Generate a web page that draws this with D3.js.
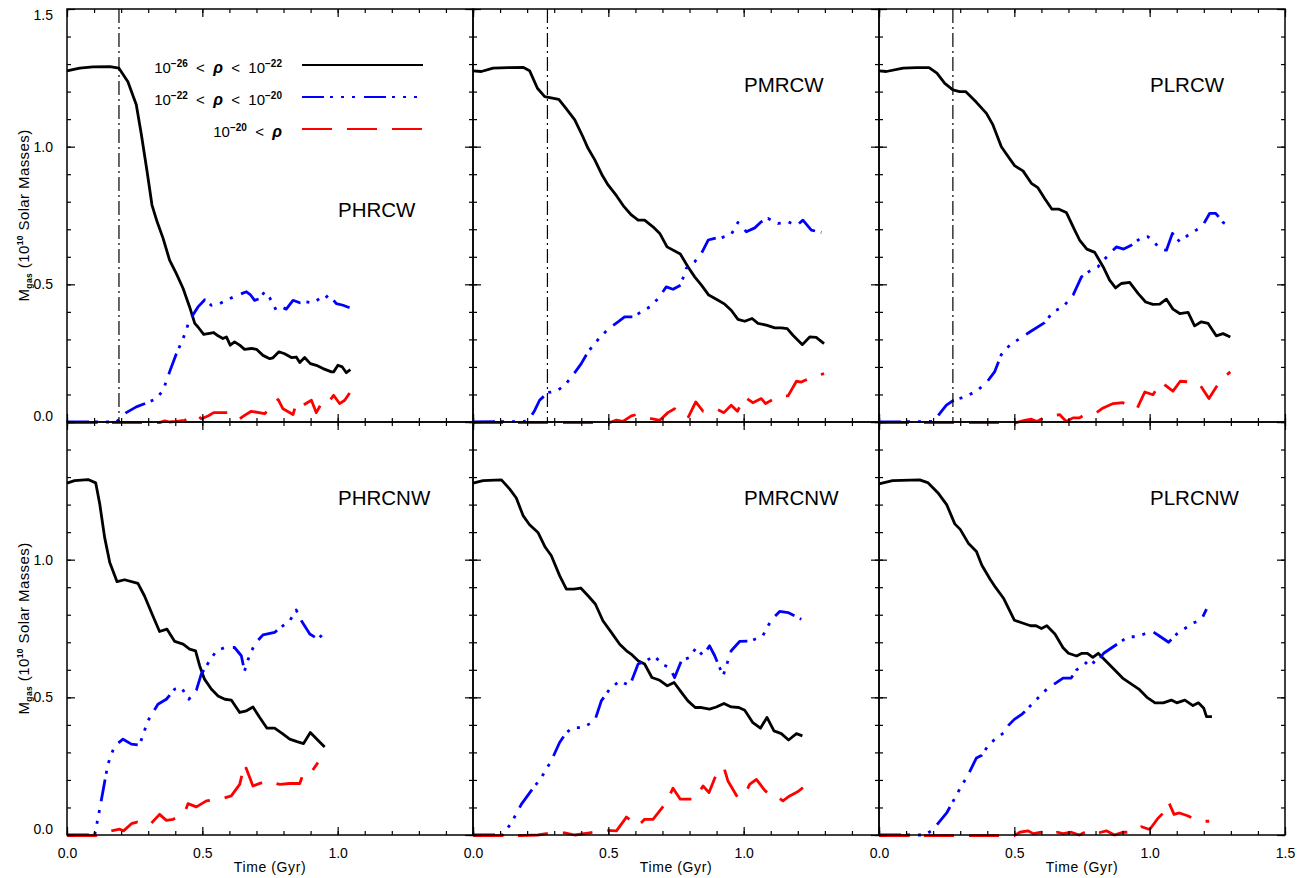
<!DOCTYPE html>
<html>
<head>
<meta charset="utf-8">
<script src="https://cdn.jsdelivr.net/npm/d3@7"></script>
<style>
  body { margin: 0; background: #fff; }
  svg { display: block; font-family: "Liberation Sans", Arial, sans-serif; }
</style>
</head>
<body>
<svg id="chart" width="1304" height="878"></svg>
<script>
// panel titles, in reading order (top row then bottom row)
const titles = ["PHRCW", "PMRCW", "PLRCW", "PHRCNW", "PMRCNW", "PLRCNW"];
// time of the dash-dot marker in the top row (Gyr)
const markers = [0.192, 0.275, 0.273, null, null, null];

const yTicks = [0, 0.5, 1.0, 1.5];
const xTicks = [0, 0.5, 1.0, 1.5];
const minorTicks = d3.range(0, 1.51, 0.1);

// [time (Gyr), M_gas (1e10 Msun)]  -- low: 1e-26<rho<1e-22, mid: 1e-22<rho<1e-20, high: 1e-20<rho
const phrcw_low = [[0,1.275],[0.047,1.285],[0.096,1.29],[0.158,1.291],[0.192,1.285],[0.225,1.236],[0.256,1.152],[0.275,1.042],[0.296,0.909],[0.314,0.788],[0.333,0.727],[0.355,0.667],[0.379,0.588],[0.404,0.539],[0.429,0.485],[0.453,0.418],[0.472,0.358],[0.484,0.345],[0.505,0.318],[0.521,0.321],[0.542,0.325],[0.558,0.313],[0.576,0.303],[0.589,0.309],[0.603,0.279],[0.619,0.291],[0.638,0.279],[0.656,0.264],[0.681,0.267],[0.70,0.264],[0.724,0.242],[0.749,0.23],[0.761,0.233],[0.783,0.255],[0.804,0.248],[0.829,0.234],[0.847,0.236],[0.86,0.216],[0.878,0.234],[0.899,0.212],[0.921,0.206],[0.946,0.194],[0.977,0.182],[0.985,0.182],[1.001,0.206],[1.017,0.2],[1.032,0.179],[1.047,0.19]];
const phrcw_mid = [[0,0],[0.182,0],[0.195,0.012],[0.219,0.034],[0.256,0.055],[0.296,0.07],[0.33,0.085],[0.355,0.115],[0.379,0.182],[0.404,0.248],[0.429,0.303],[0.453,0.37],[0.484,0.418],[0.509,0.444],[0.533,0.424],[0.564,0.43],[0.601,0.448],[0.632,0.461],[0.663,0.473],[0.677,0.463],[0.693,0.442],[0.712,0.448],[0.73,0.473],[0.749,0.451],[0.773,0.406],[0.792,0.418],[0.81,0.41],[0.835,0.442],[0.86,0.433],[0.884,0.436],[0.909,0.433],[0.933,0.448],[0.946,0.442],[0.968,0.463],[0.995,0.43],[1.02,0.424],[1.044,0.415]];
const phrcw_high = [[0,-0.002],[0.342,-0.002],[0.361,0.004],[0.379,0],[0.404,0.002],[0.435,0.006],[0.478,0.027],[0.496,0.012],[0.521,0.022],[0.542,0.034],[0.564,0.034],[0.601,0.034],[0.635,0.01],[0.656,0.024],[0.681,0.039],[0.73,0.03],[0.755,0.055],[0.78,0.082],[0.798,0.048],[0.835,0.027],[0.847,0.067],[0.862,0.073],[0.872,0.061],[0.903,0.079],[0.921,0.034],[0.94,0.067],[0.958,0.061],[0.985,0.097],[1.007,0.067],[1.026,0.079],[1.047,0.109]];

const pmrcw_low = [[0,1.275],[0.031,1.273],[0.074,1.285],[0.129,1.287],[0.185,1.288],[0.209,1.276],[0.238,1.212],[0.265,1.182],[0.317,1.172],[0.345,1.137],[0.376,1.097],[0.406,1.036],[0.425,0.994],[0.45,0.952],[0.478,0.895],[0.499,0.861],[0.53,0.822],[0.558,0.782],[0.585,0.752],[0.61,0.733],[0.634,0.733],[0.665,0.709],[0.69,0.685],[0.717,0.636],[0.766,0.61],[0.794,0.564],[0.819,0.527],[0.844,0.497],[0.871,0.461],[0.899,0.446],[0.93,0.428],[0.954,0.406],[0.979,0.373],[1.004,0.366],[1.031,0.376],[1.053,0.358],[1.084,0.352],[1.115,0.342],[1.139,0.342],[1.161,0.339],[1.182,0.315],[1.217,0.281],[1.244,0.309],[1.268,0.307],[1.297,0.285]];
const pmrcw_mid = [[0,0],[0.191,0.002],[0.209,0.012],[0.228,0.042],[0.246,0.079],[0.277,0.107],[0.308,0.112],[0.339,0.133],[0.369,0.17],[0.40,0.212],[0.425,0.255],[0.45,0.285],[0.474,0.313],[0.505,0.342],[0.536,0.364],[0.56,0.382],[0.591,0.382],[0.622,0.40],[0.653,0.418],[0.684,0.448],[0.714,0.491],[0.739,0.482],[0.767,0.497],[0.788,0.558],[0.819,0.582],[0.844,0.612],[0.869,0.661],[0.893,0.667],[0.917,0.669],[0.954,0.681],[0.979,0.725],[1.01,0.691],[1.041,0.705],[1.065,0.727],[1.09,0.739],[1.127,0.721],[1.164,0.727],[1.195,0.713],[1.219,0.733],[1.25,0.697],[1.287,0.688]];
const pmrcw_high = [[0,-0.002],[0.505,-0.002],[0.53,0.007],[0.554,0.002],[0.585,0.022],[0.603,0.027],[0.659,0.012],[0.69,0.006],[0.72,0.034],[0.745,0.048],[0.794,0.015],[0.823,0.073],[0.85,0.039],[0.899,0.048],[0.927,0.034],[0.954,0.061],[0.977,0.039],[1.004,0.091],[1.034,0.07],[1.065,0.085],[1.081,0.067],[1.133,0.095],[1.164,0.095],[1.195,0.148],[1.213,0.145],[1.256,0.164],[1.297,0.176]];

const plrcw_low = [[0,1.275],[0.027,1.273],[0.089,1.285],[0.138,1.287],[0.185,1.287],[0.214,1.267],[0.243,1.23],[0.273,1.206],[0.298,1.20],[0.32,1.20],[0.36,1.161],[0.397,1.121],[0.421,1.079],[0.452,1.0],[0.477,0.964],[0.501,0.931],[0.532,0.912],[0.563,0.867],[0.587,0.851],[0.612,0.812],[0.639,0.773],[0.665,0.773],[0.692,0.761],[0.723,0.697],[0.741,0.661],[0.768,0.628],[0.797,0.616],[0.828,0.564],[0.852,0.515],[0.874,0.487],[0.895,0.503],[0.926,0.507],[0.957,0.467],[0.985,0.436],[1.012,0.427],[1.037,0.428],[1.062,0.446],[1.086,0.41],[1.111,0.394],[1.142,0.398],[1.166,0.349],[1.191,0.364],[1.216,0.358],[1.246,0.313],[1.271,0.321],[1.298,0.309]];
const plrcw_mid = [[0,0],[0.20,0.002],[0.224,0.03],[0.249,0.061],[0.276,0.079],[0.316,0.091],[0.36,0.112],[0.397,0.143],[0.427,0.182],[0.452,0.245],[0.483,0.279],[0.52,0.303],[0.557,0.327],[0.612,0.361],[0.643,0.40],[0.68,0.418],[0.717,0.461],[0.748,0.527],[0.778,0.548],[0.809,0.564],[0.852,0.612],[0.877,0.636],[0.904,0.628],[0.932,0.642],[0.969,0.669],[0.994,0.673],[1.018,0.652],[1.043,0.624],[1.062,0.624],[1.084,0.685],[1.111,0.655],[1.142,0.679],[1.172,0.697],[1.197,0.715],[1.222,0.758],[1.244,0.758],[1.271,0.725],[1.298,0.709]];
const plrcw_high = [[0,-0.002],[0.507,-0.002],[0.538,0.006],[0.563,0.01],[0.584,0.002],[0.612,0.018],[0.667,0.027],[0.692,0.002],[0.717,0.015],[0.741,0.015],[0.76,0.027],[0.803,0.034],[0.828,0.051],[0.865,0.067],[0.901,0.07],[0.953,0.048],[0.982,0.109],[1.012,0.099],[1.043,0.145],[1.086,0.112],[1.113,0.148],[1.154,0.145],[1.185,0.136],[1.219,0.085],[1.246,0.127],[1.271,0.16],[1.298,0.182]];

const phrcnw_low = [[0,1.278],[0.028,1.287],[0.078,1.291],[0.106,1.279],[0.121,1.202],[0.139,1.081],[0.158,0.99],[0.185,0.92],[0.213,0.927],[0.262,0.914],[0.286,0.869],[0.317,0.796],[0.342,0.739],[0.369,0.748],[0.398,0.703],[0.429,0.693],[0.453,0.675],[0.475,0.669],[0.49,0.615],[0.508,0.566],[0.533,0.53],[0.558,0.505],[0.583,0.493],[0.607,0.49],[0.638,0.445],[0.663,0.451],[0.687,0.465],[0.712,0.427],[0.739,0.388],[0.767,0.388],[0.796,0.368],[0.823,0.348],[0.85,0.339],[0.874,0.332],[0.899,0.372],[0.927,0.344],[0.952,0.32]];
const phrcnw_mid = [[0,0],[0.102,0],[0.115,0.063],[0.133,0.16],[0.151,0.257],[0.176,0.324],[0.207,0.348],[0.238,0.33],[0.268,0.327],[0.299,0.415],[0.336,0.475],[0.367,0.493],[0.398,0.53],[0.422,0.536],[0.45,0.493],[0.478,0.526],[0.496,0.584],[0.527,0.633],[0.552,0.669],[0.583,0.681],[0.619,0.681],[0.644,0.651],[0.656,0.596],[0.668,0.635],[0.693,0.693],[0.724,0.727],[0.767,0.736],[0.798,0.76],[0.823,0.778],[0.847,0.817],[0.866,0.778],[0.897,0.73],[0.927,0.712],[0.946,0.73]];
const phrcnw_high = [[0,-0.002],[0.106,-0.002],[0.164,0.015],[0.195,0.021],[0.209,0.015],[0.238,0.041],[0.259,0.047],[0.305,0.036],[0.342,0.075],[0.367,0.053],[0.392,0.057],[0.435,0.081],[0.447,0.114],[0.478,0.102],[0.515,0.124],[0.564,0.13],[0.607,0.142],[0.638,0.184],[0.656,0.257],[0.687,0.178],[0.736,0.196],[0.786,0.184],[0.823,0.187],[0.86,0.187],[0.872,0.221],[0.899,0.223],[0.927,0.263]];

const pmrcnw_low = [[0,1.278],[0.037,1.287],[0.105,1.29],[0.135,1.257],[0.16,1.224],[0.185,1.16],[0.209,1.127],[0.24,1.099],[0.267,1.045],[0.289,1.015],[0.32,0.942],[0.345,0.893],[0.373,0.893],[0.398,0.897],[0.425,0.869],[0.452,0.839],[0.48,0.778],[0.511,0.736],[0.542,0.693],[0.567,0.669],[0.587,0.655],[0.61,0.633],[0.634,0.621],[0.661,0.572],[0.69,0.562],[0.718,0.542],[0.743,0.554],[0.77,0.518],[0.794,0.487],[0.821,0.463],[0.844,0.463],[0.874,0.457],[0.899,0.465],[0.927,0.478],[0.954,0.465],[0.982,0.463],[1.004,0.453],[1.034,0.408],[1.062,0.388],[1.086,0.427],[1.112,0.378],[1.139,0.368],[1.166,0.345],[1.195,0.368],[1.217,0.36]];
const pmrcnw_mid = [[0,0],[0.111,0],[0.142,0.045],[0.179,0.112],[0.216,0.162],[0.252,0.208],[0.289,0.269],[0.32,0.336],[0.345,0.372],[0.369,0.39],[0.406,0.39],[0.45,0.415],[0.474,0.487],[0.505,0.53],[0.542,0.56],[0.579,0.542],[0.61,0.621],[0.64,0.633],[0.671,0.651],[0.696,0.621],[0.727,0.608],[0.745,0.572],[0.77,0.633],[0.80,0.645],[0.825,0.681],[0.85,0.651],[0.874,0.687],[0.893,0.651],[0.924,0.578],[0.954,0.669],[0.985,0.703],[1.028,0.705],[1.071,0.724],[1.102,0.781],[1.133,0.812],[1.164,0.808],[1.213,0.784]];
const pmrcnw_high = [[0,-0.002],[0.172,-0.002],[0.24,0],[0.271,0.005],[0.339,0.008],[0.376,0],[0.431,0.008],[0.486,0.017],[0.53,0.015],[0.567,0.065],[0.61,0.033],[0.634,0.057],[0.665,0.057],[0.714,0.118],[0.739,0.17],[0.766,0.13],[0.819,0.13],[0.85,0.178],[0.872,0.154],[0.899,0.221],[0.927,0.245],[0.942,0.196],[0.977,0.138],[1.004,0.145],[1.022,0.184],[1.047,0.202],[1.078,0.162],[1.102,0.142],[1.121,0.142],[1.145,0.124],[1.17,0.142],[1.201,0.158],[1.219,0.172]];

const plrcnw_low = [[0,1.275],[0.05,1.287],[0.15,1.29],[0.18,1.28],[0.22,1.24],[0.25,1.20],[0.28,1.13],[0.30,1.11],[0.33,1.06],[0.36,1.03],[0.38,0.98],[0.41,0.93],[0.43,0.90],[0.46,0.86],[0.48,0.82],[0.50,0.78],[0.53,0.77],[0.56,0.76],[0.58,0.76],[0.60,0.75],[0.62,0.76],[0.65,0.73],[0.68,0.68],[0.70,0.66],[0.73,0.65],[0.75,0.66],[0.77,0.66],[0.79,0.645],[0.81,0.66],[0.84,0.63],[0.87,0.60],[0.90,0.57],[0.93,0.55],[0.96,0.53],[0.99,0.50],[1.02,0.48],[1.05,0.48],[1.08,0.49],[1.10,0.48],[1.13,0.49],[1.16,0.47],[1.18,0.48],[1.20,0.46],[1.21,0.43],[1.23,0.43]];
const plrcnw_mid = [[0,0],[0.17,0],[0.20,0.02],[0.25,0.08],[0.30,0.17],[0.33,0.22],[0.36,0.28],[0.38,0.29],[0.40,0.32],[0.43,0.35],[0.46,0.37],[0.48,0.40],[0.50,0.42],[0.53,0.44],[0.56,0.47],[0.59,0.50],[0.62,0.53],[0.65,0.55],[0.68,0.57],[0.71,0.57],[0.73,0.60],[0.76,0.62],[0.78,0.64],[0.80,0.62],[0.83,0.66],[0.86,0.68],[0.89,0.70],[0.92,0.72],[0.95,0.72],[0.98,0.73],[1.01,0.74],[1.04,0.72],[1.07,0.70],[1.10,0.73],[1.13,0.75],[1.16,0.77],[1.19,0.78],[1.21,0.82]];
const plrcnw_high = [[0,-0.002],[0.50,-0.002],[0.52,0.01],[0.55,0.015],[0.57,0.005],[0.60,0.01],[0.63,0],[0.66,0.01],[0.68,0.005],[0.71,0.01],[0.74,0],[0.77,0.015],[0.80,0.005],[0.84,0.015],[0.87,0],[0.90,0.01],[0.94,0.01],[0.97,0.03],[1.0,0.02],[1.03,0.06],[1.05,0.08],[1.07,0.12],[1.09,0.075],[1.11,0.08],[1.14,0.07],[1.17,0.055],[1.20,0.05],[1.22,0.05]];

const lowSeries  = [phrcw_low, pmrcw_low, plrcw_low, phrcnw_low, pmrcnw_low, plrcnw_low];
const midSeries  = [phrcw_mid, pmrcw_mid, plrcw_mid, phrcnw_mid, pmrcnw_mid, plrcnw_mid];
const highSeries = [phrcw_high, pmrcw_high, plrcw_high, phrcnw_high, pmrcnw_high, plrcnw_high];

const styles = [
  {color: "#000", dash: null},
  {color: "#0000ff", dash: "22,6,3,8,3,8,3,9"},
  {color: "#ff0000", dash: "30,15"}
];

const svg = d3.select("#chart");
const W = 406, H = 413, X0 = 67, Y0 = 9;

function panel(i) {
  const col = i % 3, row = Math.floor(i / 3);
  const left = X0 + col * W, top = Y0 + row * H;
  const x = d3.scaleLinear([0, 1.5], [left, left + W]);
  const y = d3.scaleLinear([0, 1.5], [top + H, top]);
  const g = svg.append("g");

  // data
  const line = d3.line().x(d => x(d[0])).y(d => y(d[1]));
  [lowSeries[i], midSeries[i], highSeries[i]].forEach((s, k) => {
    g.append("path")
      .attr("d", line(s))
      .attr("fill", "none")
      .attr("stroke", styles[k].color)
      .attr("stroke-width", 2.8)
      .attr("stroke-linejoin", "round")
      .attr("stroke-dasharray", styles[k].dash);
  });

  if (markers[i] != null) {
    g.append("line")
      .attr("x1", x(markers[i])).attr("x2", x(markers[i]))
      .attr("y1", y(1.5)).attr("y2", y(0))
      .attr("stroke", "#000").attr("stroke-width", 1.2)
      .attr("stroke-dasharray", "14,4,2,4");
  }

  // ticks on all four sides, pointing in
  const axes = [
    [d3.axisBottom(x), `translate(0,${top + H})`],
    [d3.axisTop(x), `translate(0,${top})`],
    [d3.axisLeft(y), `translate(${left},0)`],
    [d3.axisRight(y), `translate(${left + W},0)`]
  ];
  axes.forEach(([ax, tr], k) => {
    const major = k < 2 ? xTicks : yTicks;
    g.append("g").attr("transform", tr)
      .call(ax.tickValues(minorTicks).tickSize(-4).tickFormat(""))
      .call(a => a.select(".domain").remove())
      .selectAll("line").attr("stroke-width", 1.2);
    const labels = (k === 0 && row === 1) || (k === 2 && col === 0);
    const mg = g.append("g").attr("transform", tr)
      .call(ax.tickValues(major).tickSize(-8).tickPadding(k === 0 ? 13 : 14)
        .tickFormat(labels ? d3.format(".1f") : ""))
      .call(a => a.select(".domain").remove());
    mg.selectAll("line").attr("stroke-width", 1.2);
    mg.selectAll("text").attr("font-size", 14).attr("font-family", "Liberation Sans, Arial, sans-serif").attr("fill", "#000");
    if (k === 0 && col < 2) mg.selectAll(".tick").filter(d => d === 1.5).select("text").remove();
    if (k === 2) {
      mg.selectAll(".tick").filter(d => d === 1.5 && row === 1).select("text").remove();
      mg.selectAll(".tick").filter(d => d === 0).select("text").attr("dy", "-0.1em");
      mg.selectAll(".tick").filter(d => d === 1.5).select("text").attr("dy", "0.75em");
    }
  });

  g.append("rect")
    .attr("x", left).attr("y", top).attr("width", W).attr("height", H)
    .attr("fill", "none").attr("stroke", "#000").attr("stroke-width", 1.5);

  g.append("text")
    .attr("x", left + 271)
    .attr("y", i === 0 ? top + 208 : top + 83)
    .attr("font-size", 20.5)
    .text(titles[i]);

  if (row === 1) {
    g.append("text")
      .attr("x", left + W / 2).attr("y", 872)
      .attr("text-anchor", "middle").attr("font-size", 14)
      .attr("letter-spacing", 0.6)
      .text("Time (Gyr)");
  }
  if (col === 0) {
    const t = g.append("text")
      .attr("transform", `translate(29,${top + H / 2}) rotate(-90)`)
      .attr("text-anchor", "middle").attr("font-size", 15)
      .attr("letter-spacing", 0.4);
    t.append("tspan").text("M");
    t.append("tspan").attr("font-size", 8.5).attr("font-weight", "bold").attr("dy", 3).text("gas");
    t.append("tspan").attr("dy", -3).text(" (10");
    t.append("tspan").attr("font-size", 8.5).attr("font-weight", "bold").attr("dy", -6).text("10");
    t.append("tspan").attr("dy", 6).text(" Solar Masses)");
  }
}

d3.range(6).forEach(panel);

// legend in the first panel
const legendRows = [
  {parts: [["10", 0], ["\u221226", 1], ["  <  ", 0], ["\u03c1", 2], ["  <  10", 0], ["\u221222", 1]]},
  {parts: [["10", 0], ["\u221222", 1], ["  <  ", 0], ["\u03c1", 2], ["  <  10", 0], ["\u221220", 1]]},
  {parts: [["10", 0], ["\u221220", 1], ["  <  ", 0], ["\u03c1", 2]]}
];
const leg = svg.append("g");
legendRows.forEach((r, k) => {
  const yy = 65 + k * 32;
  const t = leg.append("text")
    .attr("x", 282).attr("y", yy + 8)
    .attr("text-anchor", "end").attr("font-size", 15)
    .attr("xml:space", "preserve").style("white-space", "pre");
  let shift = 0;
  r.parts.forEach(([s, kind]) => {
    const ts = t.append("tspan").text(s);
    const target = kind === 1 ? -6 : 0;
    ts.attr("dy", target - shift); shift = target;
    if (kind === 1) ts.attr("font-size", 10).attr("font-weight", "bold");
    if (kind === 2) ts.attr("font-style", "italic").attr("font-weight", "bold").attr("font-size", 16);
  });
  leg.append("line")
    .attr("x1", 302).attr("x2", 423).attr("y1", yy).attr("y2", yy)
    .attr("stroke", styles[k].color).attr("stroke-width", 2.2)
    .attr("stroke-dasharray", styles[k].dash);
});
</script>
</body>
</html>
